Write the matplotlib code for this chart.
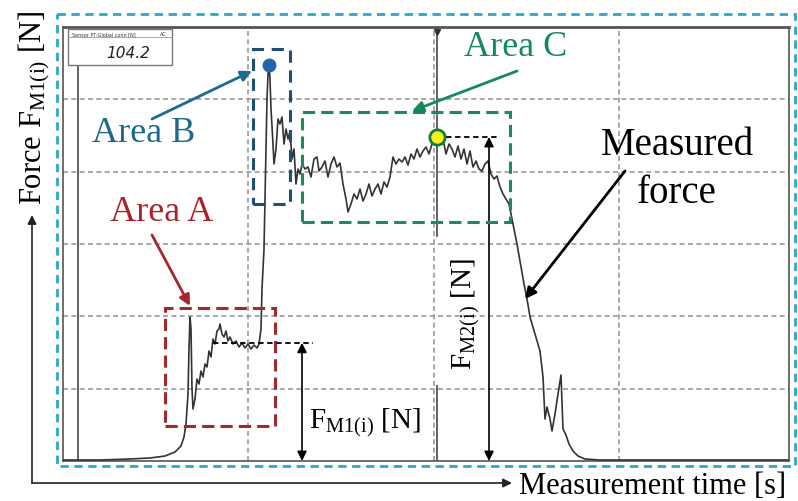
import numpy as np
import matplotlib.pyplot as plt
from matplotlib.patches import Rectangle

plt.rcParams['font.family'] = ['Liberation Serif', 'DejaVu Serif']
plt.rcParams['mathtext.fontset'] = 'custom'
plt.rcParams['mathtext.rm'] = 'Liberation Serif'
plt.rcParams['mathtext.it'] = 'Liberation Serif:italic'

# measured force signal, time [s] and force [N]
t = np.array([0.00, 0.37, 0.67, 0.87, 1.02, 1.12, 1.18, 1.21, 1.23, 1.25,
              1.26, 1.27, 1.28, 1.29, 1.30, 1.32, 1.34, 1.36, 1.38, 1.40,
              1.42, 1.44, 1.46, 1.48, 1.50, 1.52, 1.54, 1.56, 1.57, 1.59,
              1.61, 1.63, 1.65, 1.67, 1.70, 1.73, 1.76, 1.79, 1.82, 1.85,
              1.88, 1.91, 1.94, 1.96, 1.98, 1.99, 2.01, 2.02, 2.03, 2.04,
              2.05, 2.06, 2.07, 2.08, 2.10, 2.11, 2.13, 2.15, 2.17, 2.19,
              2.21, 2.23, 2.25, 2.27, 2.29, 2.31, 2.33, 2.35, 2.37, 2.39,
              2.42, 2.45, 2.48, 2.51, 2.54, 2.56, 2.59, 2.62, 2.65, 2.68,
              2.71, 2.74, 2.77, 2.80, 2.83, 2.85, 2.88, 2.91, 2.94, 2.97,
              3.00, 3.03, 3.06, 3.09, 3.12, 3.15, 3.18, 3.21, 3.24, 3.27,
              3.30, 3.33, 3.36, 3.39, 3.42, 3.45, 3.48, 3.51, 3.54, 3.57,
              3.60, 3.63, 3.66, 3.69, 3.72, 3.74, 3.77, 3.80, 3.83, 3.86,
              3.89, 3.92, 3.95, 3.98, 4.01, 4.04, 4.07, 4.10, 4.13, 4.16,
              4.19, 4.22, 4.25, 4.28, 4.31, 4.34, 4.37, 4.40, 4.43, 4.46,
              4.50, 4.54, 4.57, 4.61, 4.64, 4.67, 4.72, 4.77, 4.80, 4.82,
              4.84, 4.87, 4.89, 4.92, 4.95, 4.98, 5.00, 5.03, 5.06, 5.10,
              5.15, 5.22, 5.37, 7.26])
F = np.array([0.25, 0.25, 0.5, 0.75, 1.25, 2.25, 3.75, 6.0, 9.25, 16.75,
              28.0, 36.0, 33.0, 18.0, 13.0, 15.5, 20.5, 19.25, 22.5, 21.0,
              24.25, 23.5, 27.5, 26.0, 30.5, 29.25, 32.5, 33.0, 34.25, 31.75,
              31.0, 32.5, 30.0, 31.0, 29.25, 30.0, 28.5, 29.5, 28.25, 29.25,
              28.0, 29.0, 28.25, 29.25, 33.0, 43.0, 53.0, 65.5, 78.0, 90.5,
              96.75, 99.0, 95.5, 88.0, 79.25, 74.25, 78.0, 85.5, 84.25, 86.0,
              79.25, 83.0, 80.5, 82.5, 75.5, 78.0, 69.25, 73.0, 71.75, 74.25,
              73.0, 73.5, 71.0, 75.5, 76.0, 72.5, 73.5, 75.0, 71.0, 74.25,
              76.0, 73.5, 74.5, 69.25, 65.5, 62.25, 64.25, 66.75, 65.5, 68.0,
              65.0, 66.75, 69.25, 66.25, 68.0, 69.25, 66.75, 69.75, 68.5, 71.0,
              76.0, 74.25, 75.5, 74.75, 76.0, 74.0, 76.75, 75.5, 78.0, 76.0,
              77.5, 78.5, 76.75, 79.25, 80.5, 81.0, 80.0, 80.5, 76.75, 79.25,
              78.0, 76.0, 78.75, 75.5, 78.0, 74.25, 77.5, 73.5, 75.0, 73.0,
              72.5, 74.25, 75.0, 71.75, 70.5, 71.25, 68.5, 66.75, 65.5, 64.25,
              59.25, 54.25, 50.0, 44.25, 40.5, 36.0, 31.75, 27.5, 21.0, 10.5,
              13.5, 10.5, 7.5, 11.75, 16.75, 21.5, 8.0, 6.5, 4.25, 2.5,
              1.25, 0.5, 0.25, 0.25])

t_end, F_top = 7.26, 108.5
grid_t = [1.85, 3.71, 5.56]
grid_F = np.linspace(0, F_top, 7)[1:-1]

# characteristic values
fm1 = F[(t > 1.6) & (t < 1.97)].mean()
win_c = (t > 2.4) & (t < 4.5)
i_c = np.where(win_c)[0][np.argmax(F[win_c])]
i_b = np.argmax(F)
fm2 = F[i_c]

fig = plt.figure(figsize=(7.98, 5.02), dpi=100)
ax = fig.add_axes([63/798, 40/502, 726/798, 434/502])
ax.set_xlim(0, t_end)
ax.set_ylim(0, F_top)
ax.set_xticks(grid_t)
ax.set_yticks(grid_F)
ax.tick_params(length=0, labelbottom=False, labelleft=False)
ax.grid(True, color='#999999', ls=(0, (3, 2)), lw=1.2)
for s in ax.spines.values():
    s.set_color('#555555'); s.set_linewidth(1.2)
ax.spines['top'].set_linewidth(2)

ax.plot(t, F, color='#333333', lw=1.2, zorder=3)

# cursor line and sensor line
ax.plot([t[i_c], t[i_c]], [F_top, 56.25], color='#555555', lw=1.3)
ax.plot([t[i_c], t[i_c]], [18.75, 0], color='#555555', lw=1.3)
ax.plot([t[i_c]], [F_top - 1.2], marker='v', color='#333333', ms=5, clip_on=False)
ax.plot([0.15, 0.15], [0, 98.5], color='#555555', lw=1.3)

# area boxes
ax.add_patch(Rectangle((1.02, 8.75), 1.10, 29.5, fill=False, ec='#a32a2a',
                       lw=2.2, ls=(0, (4, 2)), zorder=4))
ax.add_patch(Rectangle((1.90, 64.25), 0.37, 38.75, fill=False, ec='#1d4f78',
                       lw=2.2, ls=(0, (4, 2.5)), zorder=4))
ax.add_patch(Rectangle((2.39, 59.75), 2.08, 27.5, fill=False, ec='#1d8a58',
                       lw=2.2, ls=(0, (4, 2)), zorder=4))

# level lines and force arrows
ax.plot([1.5, 2.5], [fm1, fm1], color='black', lw=1.3, ls=(0, (3, 2)), zorder=4)
ax.plot([t[i_c], 4.34], [fm2, fm2], color='black', lw=1.3, ls=(0, (3, 2)), zorder=4)
ax.annotate('', xy=(2.39, 0), xytext=(2.39, fm1), annotation_clip=False,
            arrowprops=dict(arrowstyle='<|-|>', color='black', lw=1.2,
                            mutation_scale=14, shrinkA=0, shrinkB=0))
ax.annotate('', xy=(4.26, 0), xytext=(4.26, fm2), annotation_clip=False,
            arrowprops=dict(arrowstyle='<|-|>', color='black', lw=1.2,
                            mutation_scale=14, shrinkA=0, shrinkB=0))

# markers
ax.plot(t[i_b], F[i_b], 'o', color='#1f65b0', ms=9, zorder=5, clip_on=False)
ax.plot(t[i_c], fm2, 'o', mfc='#f2f21c', mec='#1a7a3a', mew=2, ms=11, zorder=5)

# overlay in pixel units
ov = fig.add_axes([0, 0, 1, 1], zorder=3)
ov.set_xlim(0, 798)
ov.set_ylim(502, 0)
ov.axis('off')

ov.add_patch(Rectangle((57, 15), 738, 452, fill=False, ec='#2aa8c9', lw=2,
                       ls=(0, (3, 2))))

# sensor display
ov.add_patch(Rectangle((68, 30), 104, 36, fc='white', ec='#777777', lw=1))
ov.plot([68, 172], [38, 38], color='#999999', lw=0.6)
ov.text(72, 34.5, 'Sensor PT-Global conn [N]', fontsize=3.5, family='DejaVu Sans',
        va='center', color='#333333')
ov.text(160, 34.5, 'AC', fontsize=3.5, family='DejaVu Sans', va='center', color='#333333')
ov.text(150, 53, '104.2', fontsize=11, family='DejaVu Sans', style='italic',
        ha='right', va='center', color='#222222')

# axis arrows
ov.annotate('', xy=(32, 216), xytext=(32, 484),
            arrowprops=dict(arrowstyle='-|>', color='#222222', lw=1.2,
                            mutation_scale=13, shrinkA=0, shrinkB=0))
ov.annotate('', xy=(512, 484), xytext=(32, 484),
            arrowprops=dict(arrowstyle='-|>', color='#222222', lw=1.2,
                            mutation_scale=13, shrinkA=0, shrinkB=0))
ov.text(34, 108, r'Force F$_{\mathrm{M1(i)}}$ [N]', rotation=90, fontsize=22,
        ha='center', va='center')
ov.text(653, 487, 'Measurement time [s]', fontsize=22, ha='center', va='center')

# labels with arrows
ov.text(162, 213, 'Area A', fontsize=26, color='#a8262b', ha='center', va='center')
ov.text(144, 134, 'Area B', fontsize=26, color='#1e6a8f', ha='center', va='center')
ov.text(516, 48, 'Area C', fontsize=26, color='#15895a', ha='center', va='center')
ov.text(677, 146, 'Measured', fontsize=28, ha='center', va='center')
ov.text(677, 194, 'force', fontsize=28, ha='center', va='center')
ov.text(365, 423, r'F$_{\mathrm{M1(i)}}$ [N]', fontsize=21, ha='center', va='center',
        bbox=dict(fc='white', ec='none', pad=1))
ov.text(466, 314, r'F$_{\mathrm{M2(i)}}$ [N]', fontsize=21, rotation=90,
        ha='center', va='center')

arrows = [((152, 236), (190, 307), '#a8262b'),
          ((152, 120), (252, 72), '#1e6a8f'),
          ((517, 72), (412, 112), '#15895a'),
          ((625, 172), (525, 300), 'black')]
for (x0, y0), (x1, y1), c in arrows:
    ov.annotate('', xy=(x1, y1), xytext=(x0, y0),
                arrowprops=dict(arrowstyle='-|>', color=c, lw=2,
                                mutation_scale=16, shrinkA=0, shrinkB=0))

fig.savefig('out.png', dpi=100)
